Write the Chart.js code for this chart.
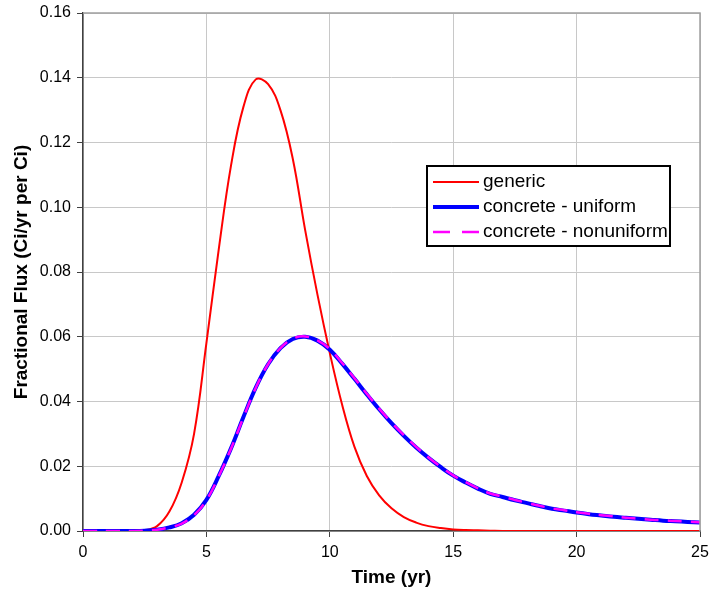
<!DOCTYPE html>
<html>
<head>
<meta charset="utf-8">
<script src="https://cdn.jsdelivr.net/npm/chart.js@4"></script>
<style>
  html, body { margin: 0; padding: 0; background: #fff; }
  #wrap { width: 710px; height: 597px; }
</style>
</head>
<body>
<div id="wrap"><canvas id="flux"></canvas></div>
<script>
// time in years, half-year steps
const timeYears = [0, 0.5, 1, 1.5, 2, 2.5, 3, 3.5, 4, 4.5, 5, 5.5, 6, 6.5, 7, 7.5, 8, 8.5, 9, 9.5,
  10, 10.5, 11, 11.5, 12, 12.5, 13, 13.5, 14, 14.5, 15, 15.5, 16, 16.5, 17, 17.5, 18, 18.5, 19, 19.5,
  20, 20.5, 21, 21.5, 22, 22.5, 23, 23.5, 24, 24.5, 25]

const generic = [0, 0, 0, 0, 0, 0.0002, 0.0015, 0.006, 0.015, 0.030, 0.058, 0.087, 0.113, 0.131, 0.1395, 0.138, 0.130, 0.115, 0.093, 0.073,
  0.055, 0.039, 0.026, 0.017, 0.011, 0.007, 0.0043, 0.0026, 0.0015, 0.0009, 0.0005, 0.0003, 0.0002, 0.0001, 0, 0, 0, 0, 0, 0,
  0, 0, 0, 0, 0, 0, 0, 0, 0, 0, 0]

const concreteUniform = [0, 0, 0, 0, 0, 0.0001, 0.0004, 0.0011, 0.0024, 0.0050, 0.0096, 0.0170, 0.0256, 0.0352, 0.0443, 0.0515, 0.0565, 0.0593, 0.0600, 0.0588,
  0.0560, 0.0517, 0.0470, 0.0422, 0.0376, 0.0333, 0.0294, 0.0258, 0.0226, 0.0197, 0.0171, 0.0150, 0.0131, 0.0115, 0.0105, 0.0095, 0.0086, 0.0077, 0.0069, 0.0063,
  0.0057, 0.0052, 0.0048, 0.0044, 0.0041, 0.0038, 0.0035, 0.0032, 0.0030, 0.0028, 0.0026]

const concreteNonuniform = [0, 0, 0, 0, 0, 0.0001, 0.0004, 0.0011, 0.0023, 0.0049, 0.0095, 0.0169, 0.0255, 0.0351, 0.0442, 0.0515, 0.0565, 0.0594, 0.0601, 0.0589,
  0.0562, 0.0519, 0.0472, 0.0424, 0.0378, 0.0335, 0.0296, 0.0260, 0.0227, 0.0198, 0.0172, 0.0151, 0.0132, 0.0116, 0.0106, 0.0096, 0.0087, 0.0078, 0.0070, 0.0064,
  0.0058, 0.0053, 0.0049, 0.0045, 0.0041, 0.0038, 0.0035, 0.0033, 0.0031, 0.0029, 0.0027]

const seriesNames = ['generic', 'concrete - uniform', 'concrete - nonuniform']

const xTicks = [0, 5, 10, 15, 20, 25]
const yMax = 0.16

const toPoints = vals => timeYears.map((t, i) => ({ x: t, y: vals[i] }))

// legend box drawn inside the plot, with a plain black frame
const boxLegend = {
  id: 'boxLegend',
  afterDraw(chart) {
    const ctx = chart.ctx
    const area = chart.chartArea
    // plot frame on the top and right side
    ctx.save()
    ctx.strokeStyle = '#a0a0a0'
    ctx.lineWidth = 1.5
    ctx.beginPath()
    ctx.moveTo(area.left, area.top)
    ctx.lineTo(area.right, area.top)
    ctx.lineTo(area.right, area.bottom)
    ctx.stroke()

    const bx = 427, by = 166, bw = 243, bh = 80
    ctx.fillStyle = '#fff'
    ctx.fillRect(bx, by, bw, bh)
    ctx.strokeStyle = '#000'
    ctx.lineWidth = 2
    ctx.strokeRect(bx, by, bw, bh)

    ctx.font = '19px "Liberation Sans", Arial, sans-serif'
    ctx.textBaseline = 'middle'
    chart.data.datasets.forEach((ds, i) => {
      const y = by + 16 + i * 25
      ctx.strokeStyle = ds.borderColor
      ctx.lineWidth = ds.borderWidth
      ctx.setLineDash(ds.borderDash ? [17, 12] : [])
      ctx.beginPath()
      ctx.moveTo(bx + 6, y)
      ctx.lineTo(bx + 52, y)
      ctx.stroke()
      ctx.setLineDash([])
      ctx.fillStyle = '#000'
      ctx.fillText(ds.label, bx + 56, y)
    })
    ctx.restore()
  }
}

new Chart(document.getElementById('flux'), {
  type: 'line',
  data: {
    datasets: [
      {
        label: seriesNames[0],
        data: toPoints(generic),
        borderColor: '#ff0000',
        borderWidth: 2,
        pointRadius: 0,
        tension: 0.4,
        order: 2
      },
      {
        label: seriesNames[1],
        data: toPoints(concreteUniform),
        borderColor: '#0000ff',
        borderWidth: 4,
        pointRadius: 0,
        tension: 0.4,
        order: 1
      },
      {
        label: seriesNames[2],
        data: toPoints(concreteNonuniform),
        borderColor: '#ff00ff',
        borderWidth: 2.5,
        borderDash: [14, 9],
        pointRadius: 0,
        tension: 0.4,
        order: 0
      }
    ]
  },
  options: {
    responsive: true,
    maintainAspectRatio: false,
    animation: false,
    layout: { padding: { top: 13, right: 10, left: 0, bottom: 0 } },
    plugins: {
      legend: { display: false },
      tooltip: { enabled: false }
    },
    scales: {
      x: {
        type: 'linear',
        min: 0,
        max: 25,
        afterBuildTicks: s => { s.ticks = xTicks.map(v => ({ value: v })) },
        afterFit: s => { s.height = 66; s.paddingLeft = 0; s.paddingRight = 0 },
        grid: { color: '#c8c8c8', lineWidth: 1, tickLength: 6, tickColor: '#404040' },
        border: { color: '#404040', width: 1.5 },
        ticks: {
          color: '#000',
          padding: 6,
          maxRotation: 0,
          font: { family: '"Liberation Sans", Arial, sans-serif', size: 16 }
        },
        title: {
          display: true,
          text: 'Time (yr)',
          color: '#000',
          padding: { bottom: 8 },
          font: { family: '"Liberation Sans", Arial, sans-serif', size: 19, weight: 'bold' }
        }
      },
      y: {
        min: 0,
        max: yMax,
        afterFit: s => { s.width = 83; s.paddingTop = 0; s.paddingBottom = 0 },
        grid: { color: '#c8c8c8', lineWidth: 1, tickLength: 6, tickColor: '#404040' },
        border: { color: '#404040', width: 1.5 },
        ticks: {
          stepSize: 0.02,
          color: '#000',
          padding: 6,
          callback: v => v.toFixed(2),
          font: { family: '"Liberation Sans", Arial, sans-serif', size: 16 }
        },
        title: {
          display: true,
          text: 'Fractional Flux (Ci/yr per Ci)',
          color: '#000',
          padding: { top: 10 },
          font: { family: '"Liberation Sans", Arial, sans-serif', size: 19, weight: 'bold' }
        }
      }
    }
  },
  plugins: [boxLegend]
})
</script>
</body>
</html>
